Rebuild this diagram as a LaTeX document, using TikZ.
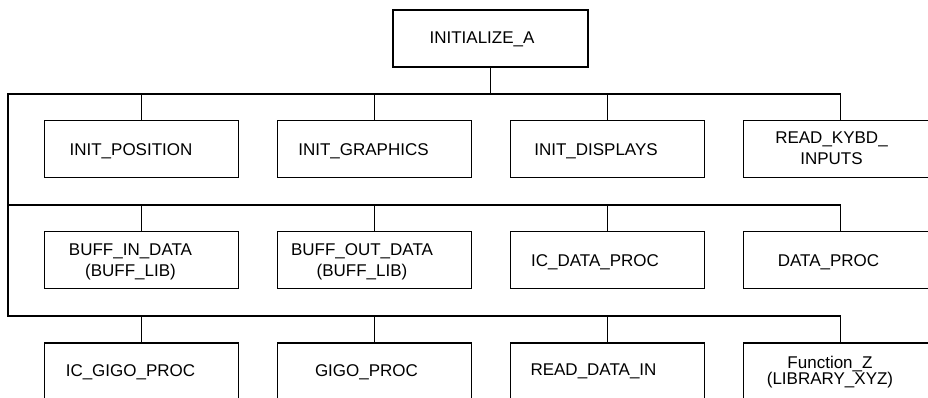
\documentclass[tikz,border=0pt]{standalone}
\usepackage{fontspec}
\setmainfont{Liberation Sans}
\begin{document}
\begin{tikzpicture}[x=1pt,y=-1pt,
  box/.style={draw,line width=1.3pt,minimum width=194pt,minimum height=57pt,inner sep=0pt},
  lbl/.style={anchor=north,inner sep=0pt,align=center,font=\fontsize{17}{20.5}\selectfont},
  wire/.style={line width=1.3pt}]
\useasboundingbox (0,0) rectangle (928,397);
\clip (0,0) rectangle (928,397);

% root module
\node[box,minimum width=195pt] (root) at (490.5,38.5) {};
\node[lbl] (rootT) at (482,31.7) {INITIALIZE\_A};

% first row of called modules
\node[box] (a1) at (141.5,149) {};
\node[box] (a2) at (374.5,149) {};
\node[box] (a3) at (607.5,149) {};
\node[box] (a4) at (840.5,149) {};
\node[lbl] (a1T) at (131,143) {INIT\_POSITION};
\node[lbl] (a2T) at (363.5,143) {INIT\_GRAPHICS};
\node[lbl] (a3T) at (596,143) {INIT\_DISPLAYS};
\node[lbl] (a4T) at (831.5,131.7) {READ\_KYBD\_\\INPUTS};

% second row
\node[box] (b1) at (141.5,260) {};
\node[box] (b2) at (374.5,260) {};
\node[box] (b3) at (607.5,260) {};
\node[box] (b4) at (840.5,260) {};
\node[lbl] (b1T) at (130.5,244) {BUFF\_IN\_DATA\\(BUFF\_LIB)};
\node[lbl] (b2T) at (362,243.5) {BUFF\_OUT\_DATA\\(BUFF\_LIB)};
\node[lbl] (b3T) at (595,254) {IC\_DATA\_PROC};
\node[lbl] (b4T) at (828.5,254) {DATA\_PROC};

% third row
\node[box] (c1) at (141.5,371.5) {};
\node[box] (c2) at (374.5,371.5) {};
\node[box] (c3) at (607.5,371.5) {};
\node[box] (c4) at (840.5,371.5) {};
\node[lbl] (c1T) at (130.5,364) {IC\_GIGO\_PROC};
\node[lbl] (c2T) at (366.5,364) {GIGO\_PROC};
\node[lbl] (c3T) at (593.5,364) {READ\_DATA\_IN};
\node[lbl,font=\fontsize{17}{16}\selectfont] (c4T) at (830,355.7) {Function\_Z\\(LIBRARY\_XYZ)};

% call buses
\coordinate (busA) at (8,94);
\coordinate (busB) at (8,205);
\coordinate (busC) at (8,316);

\draw[wire] (root.south) -- (root.south |- busA);
\draw[wire] (a4.north |- busA) -- (busA) -- (busC) -- (c4.north |- busC);
\draw[wire] (busB) -- (b4.north |- busB);
\foreach \n in {a1,a2,a3,a4} \draw[wire] (\n.north) -- (\n.north |- busA);
\foreach \n in {b1,b2,b3,b4} \draw[wire] (\n.north) -- (\n.north |- busB);
\foreach \n in {c1,c2,c3,c4} \draw[wire] (\n.north) -- (\n.north |- busC);
\end{tikzpicture}
\end{document}
